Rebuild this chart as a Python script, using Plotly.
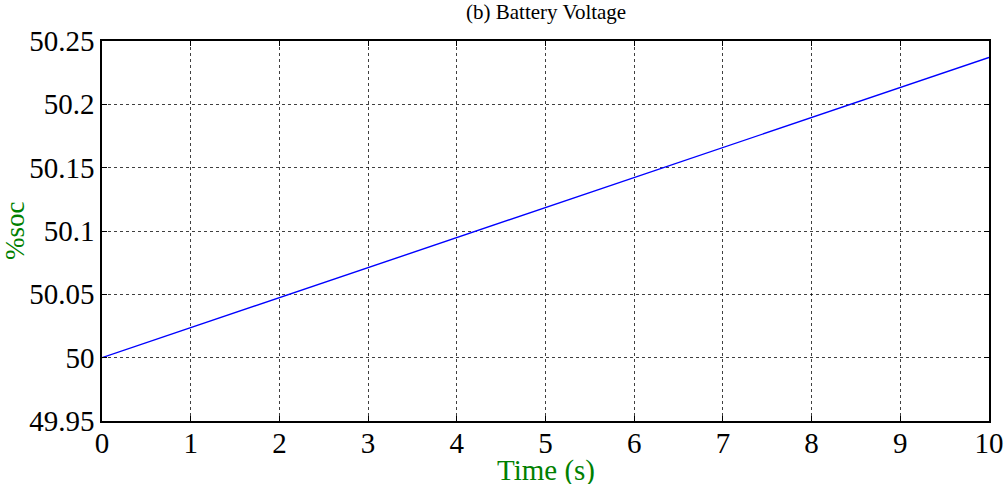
import plotly.graph_objects as go

time_s = [0, 10]
soc_pct = [50.0, 50.237]
x_ticks = [0, 1, 2, 3, 4, 5, 6, 7, 8, 9, 10]
y_ticks = [49.95, 50.0, 50.05, 50.1, 50.15, 50.2, 50.25]
y_tick_text = ["49.95", "50", "50.05", "50.1", "50.15", "50.2", "50.25"]

font_family = "Times New Roman, Liberation Serif, serif"

fig = go.Figure()
fig.add_trace(go.Scatter(x=time_s, y=soc_pct, mode="lines",
                         line=dict(color="#0000ff", width=1.4), showlegend=False))

axis_common = dict(showline=True, linecolor="black", linewidth=1.5, mirror="ticks",
                   ticks="inside", ticklen=5, tickcolor="black", automargin=False,
                   showgrid=True, gridcolor="rgba(0,0,0,0.75)", griddash="dot", gridwidth=1,
                   zeroline=False, tickfont=dict(family=font_family, size=29, color="black"))

fig.update_xaxes(range=[0, 10], tickvals=x_ticks, ticktext=[str(v) for v in x_ticks],
                 ticklabelstandoff=-5, **axis_common)
fig.update_yaxes(range=[49.95, 50.25], tickvals=y_ticks, ticktext=y_tick_text, **axis_common)

fig.add_annotation(text="(b) Battery Voltage", xref="paper", yref="paper", x=0.5, y=1,
                   xanchor="center", yanchor="middle", yshift=29, showarrow=False,
                   font=dict(family=font_family, size=21, color="black"))
fig.add_annotation(text="Time (s)", xref="paper", yref="paper", x=0.5, y=0,
                   xanchor="center", yanchor="middle", yshift=-49,
                   showarrow=False, font=dict(family=font_family, size=29, color="#008000"))
fig.add_annotation(text="%soc", xref="paper", yref="paper", x=0, y=0.5,
                   xanchor="center", yanchor="middle", xshift=-87,
                   textangle=-90, showarrow=False, font=dict(family=font_family, size=27, color="#008000"))

fig.update_layout(width=1004, height=484, margin=dict(l=102, r=15, t=41, b=63),
                  paper_bgcolor="white", plot_bgcolor="white",
                  font=dict(family=font_family))

fig.write_html("out.html")
